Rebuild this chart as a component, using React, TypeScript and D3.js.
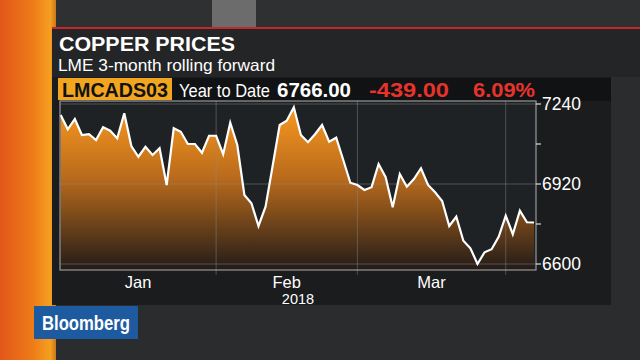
import React from 'react';
import * as d3 from 'd3';

const dates: string[] = [
  '2018-01-02','2018-01-03','2018-01-04','2018-01-05','2018-01-08','2018-01-09','2018-01-10','2018-01-11','2018-01-12',
  '2018-01-15','2018-01-16','2018-01-17','2018-01-18','2018-01-19','2018-01-22','2018-01-23','2018-01-24','2018-01-25',
  '2018-01-26','2018-01-29','2018-01-30','2018-01-31',
  '2018-02-01','2018-02-02','2018-02-05','2018-02-06','2018-02-07','2018-02-08','2018-02-09','2018-02-12','2018-02-13',
  '2018-02-14','2018-02-15','2018-02-16','2018-02-19','2018-02-20','2018-02-21','2018-02-22','2018-02-23','2018-02-26',
  '2018-02-27','2018-02-28',
  '2018-03-01','2018-03-02','2018-03-05','2018-03-06','2018-03-07','2018-03-08','2018-03-09','2018-03-12','2018-03-13',
  '2018-03-14','2018-03-15','2018-03-16','2018-03-19','2018-03-20','2018-03-21','2018-03-22','2018-03-23','2018-03-26',
  '2018-03-27','2018-03-28','2018-03-29',
  '2018-04-03','2018-04-04','2018-04-05','2018-04-06','2018-04-09',
];

const prices: number[] = [
  7196, 7139, 7180, 7116, 7119, 7096, 7147, 7133, 7103, 7203,
  7072, 7029, 7069, 7036, 7063, 6916, 7143, 7129, 7080, 7080,
  7045, 7113, 7113, 7039, 7165, 7076, 6876, 6843, 6752, 6829,
  6992, 7156, 7173, 7227, 7116, 7087, 7119, 7156, 7089, 7105,
  7016, 6925, 6916, 6896, 6907, 7000, 6947, 6827, 6960, 6909,
  6940, 6983, 6916, 6887, 6852, 6752, 6789, 6693, 6663, 6600,
  6647, 6659, 6709, 6793, 6719, 6813, 6767, 6766,
];

const yTicks = [7240, 7080, 6920, 6760, 6600];
const yLabels = [7240, 6920, 6600];
const monthLabels = ['Jan', 'Feb', 'Mar'];
const monthStarts = ['2018-02-01', '2018-03-01', '2018-04-03'];
const yearLabel = '2018';

const title = 'COPPER PRICES';
const subtitle = 'LME 3-month rolling forward';
const ticker = 'LMCADS03';
const periodLabel = 'Year to Date';
const lastValue = '6766.00';
const change = '-439.00';
const changePct = '6.09%';

export default function App() {
  const W = 640, H = 360;
  const plotL = 60, plotR = 536, plotT = 101, plotB = 270;
  const x = d3.scalePoint<string>().domain(dates).range([60.7, 534]);
  const y = d3.scaleLinear().domain([6600, 7240]).range([264, 104]);
  const data = dates.map((d, i) => ({ d, v: prices[i] }));
  const line = d3.line<{ d: string; v: number }>().x(p => x(p.d)!).y(p => y(p.v));
  const area = d3.area<{ d: string; v: number }>().x(p => x(p.d)!).y0(plotB).y1(p => y(p.v));
  const grids = monthStarts.map(m => x(m)!);
  const bounds = [plotL, ...grids];
  const font = '"Liberation Sans", Arial, sans-serif';

  return (
    <svg width={W} height={H} style={{ position: 'fixed', left: 0, top: 0 }} fontFamily={font}>
      <defs>
        <linearGradient id="orangeStrip" x1="0" x2="1" y1="0" y2="0">
          <stop offset="0" stopColor="#e2561a" />
          <stop offset="0.6" stopColor="#ee7d18" />
          <stop offset="0.9" stopColor="#f5a020" />
          <stop offset="1" stopColor="#c8781a" />
        </linearGradient>
        <linearGradient id="areaFill" gradientUnits="userSpaceOnUse" x1="0" x2="0" y1={104} y2={plotB}>
          <stop offset="0" stopColor="#fb9a20" />
          <stop offset="0.45" stopColor="#b86a1c" />
          <stop offset="1" stopColor="#221b18" />
        </linearGradient>
      </defs>
      {/* background */}
      <rect x={0} y={0} width={W} height={H} fill="#2a2c2e" />
      <rect x={0} y={0} width={W} height={28} fill="#2e3032" />
      <rect x={212} y={0} width={44} height={28} fill="#6c6c6c" />
      <rect x={0} y={0} width={56} height={H} fill="url(#orangeStrip)" />
      {/* panel */}
      <rect x={52} y={29} width={588} height={48} fill="#232527" />
      <rect x={52} y={77} width={559} height={228} fill="#1b1c1e" />
      <rect x={172} y={78} width={439} height={23} fill="#111213" />
      <line x1={52} x2={640} y1={28} y2={28} stroke="#c4282a" strokeWidth={2} />
      {/* titles */}
      <text x={59} y={50.5} fill="#ffffff" fontSize={21} fontWeight="bold" textLength={176} lengthAdjust="spacingAndGlyphs">{title}</text>
      <text x={58} y={71} fill="#ffffff" fontSize={16.5} textLength={217} lengthAdjust="spacingAndGlyphs">{subtitle}</text>
      <rect x={58} y={78} width={114} height={22} fill="#f2a51f" />
      <text x={62} y={96.5} fill="#111" fontSize={20} fontWeight="bold" textLength={106} lengthAdjust="spacingAndGlyphs">{ticker}</text>
      <text x={179} y={96.5} fill="#fff" fontSize={19} textLength={91} lengthAdjust="spacingAndGlyphs">{periodLabel}</text>
      <text x={277} y={96.5} fill="#fff" fontSize={20} fontWeight="bold" textLength={74} lengthAdjust="spacingAndGlyphs">{lastValue}</text>
      <text x={369} y={96.5} fill="#e8332c" fontSize={20} fontWeight="bold" textLength={80} lengthAdjust="spacingAndGlyphs">{change}</text>
      <text x={473} y={96.5} fill="#e8332c" fontSize={20} fontWeight="bold" textLength={62} lengthAdjust="spacingAndGlyphs">{changePct}</text>
      {/* plot */}
      <rect x={plotL} y={plotT} width={plotR - plotL} height={plotB - plotT} fill="#1f2225" />
      <path d={area(data)!} fill="url(#areaFill)" />
      {yLabels.map(v => (
        <line key={'hg' + v} x1={plotL} x2={plotR} y1={y(v)} y2={y(v)} stroke="#8a8a8a" strokeOpacity={0.45} strokeWidth={1} />
      ))}
      {grids.map((gx, i) => (
        <line key={'vg' + i} x1={gx} x2={gx} y1={plotT} y2={plotB + 5} stroke="#8a8a8a" strokeOpacity={0.45} strokeWidth={1} />
      ))}
      <path d={line(data)!} fill="none" stroke="#ffffff" strokeWidth={2.2} />
      <rect x={plotL} y={plotT} width={plotR - plotL} height={plotB - plotT} fill="none" stroke="#b8b8b8" strokeOpacity={0.8} strokeWidth={1.2} />
      {/* right axis */}
      {yTicks.map(v => (
        <line key={'t' + v} x1={plotR} x2={plotR + 5} y1={y(v)} y2={y(v)} stroke="#ddd" strokeWidth={1.2} />
      ))}
      {yLabels.map(v => (
        <text key={'yl' + v} x={542} y={y(v) + 6} fill="#fff" fontSize={17.5}>{v}</text>
      ))}
      {/* bottom axis */}
      {monthLabels.map((m, i) => (
        <text key={m} x={(bounds[i] + bounds[i + 1]) / 2} y={288} fill="#fff" fontSize={16.5} textAnchor="middle">{m}</text>
      ))}
      <text x={(plotL + plotR) / 2} y={303.5} fill="#fff" fontSize={14.5} textAnchor="middle">{yearLabel}</text>
      {/* logo */}
      <rect x={34} y={306} width={104} height={33} fill="#1d5aa0" />
      <text x={86} y={329.5} fill="#fff" fontSize={20} fontWeight="bold" textAnchor="middle" textLength={88} lengthAdjust="spacingAndGlyphs">Bloomberg</text>
    </svg>
  );
}
